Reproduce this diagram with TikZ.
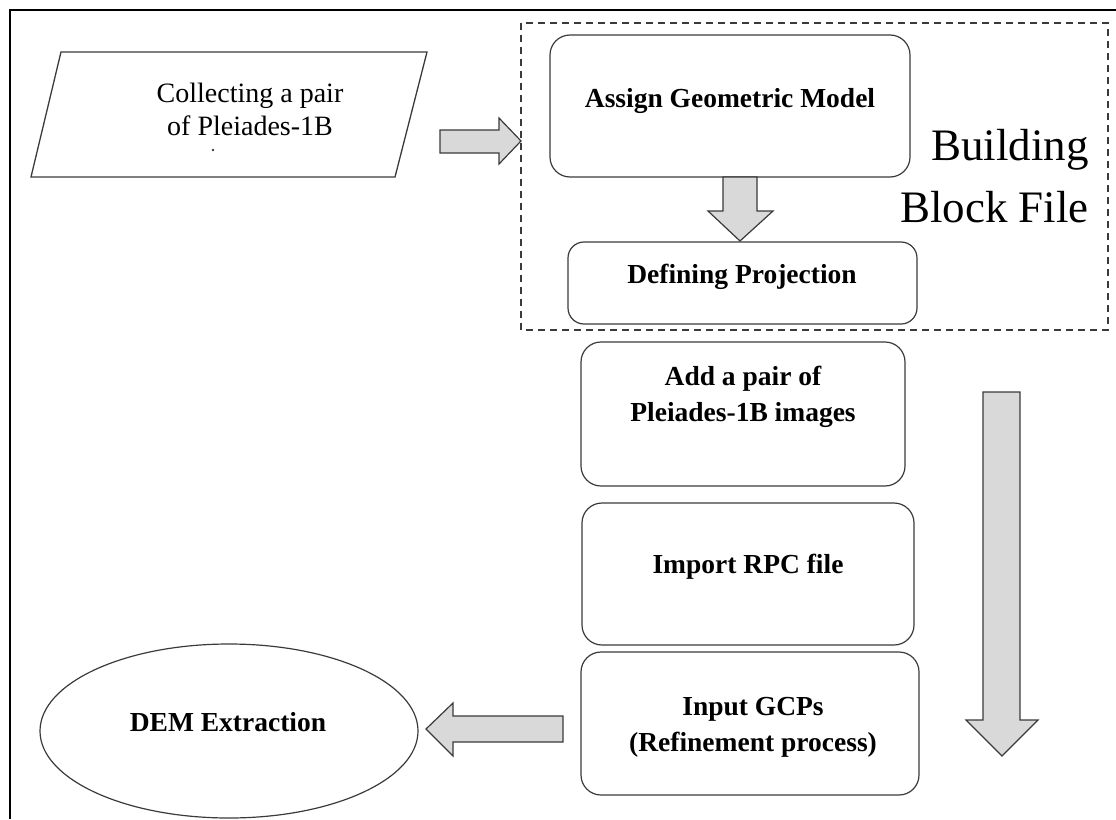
\documentclass[tikz,border=0pt]{standalone}
\usepackage{fontspec}
\setmainfont{Liberation Serif}
\usetikzlibrary{shapes.geometric}
\definecolor{edge}{HTML}{3A3A3A}
\definecolor{arrowfill}{HTML}{D9D9D9}
\tikzset{
  roundbox/.style={draw=edge, line width=1.2pt, rounded corners=20pt, minimum width=#1, inner sep=0pt},
  boxlabel/.style={font=\fontsize{27.5}{36}\selectfont\bfseries, align=center, anchor=base, inner sep=0pt},
  blockarrow/.style={draw=edge, fill=arrowfill, line width=1.2pt, line join=miter},
  frameline/.style={draw=black, line width=2pt},
}
\begin{document}
\begin{tikzpicture}[x=1pt, y=-1pt]
\useasboundingbox (0,0) rectangle (1116,819);
% frame (top and left edges visible)
\draw[frameline] (10,819) -- (10,10) -- (1116,10);

% input parallelogram
\coordinate (pTL) at (61,52);
\coordinate (pTR) at (427,52);
\coordinate (pBR) at (395,177);
\coordinate (pBL) at (31,177);
\draw[draw=edge, line width=1.3pt] (pTL) -- (pTR) -- (pBR) -- (pBL) -- cycle;
\node[font=\fontsize{28}{33}\selectfont, align=center, anchor=base, inner sep=0pt] (collect) at (250,135) {Collecting a pair\\of Pleiades-1B};
\fill[edge] (213,150) circle (1.3pt);

% dashed group
\draw[draw=edge, line width=1.5pt, dash pattern=on 7pt off 5pt] (521,23) rectangle (1108,330);
\node[font=\fontsize{45}{62}\selectfont, align=right, anchor=base east, inner sep=0pt] (bbf) at (1089,222) {Building\\Block File};

% process boxes
\node[roundbox=360pt, minimum height=142pt] (assign) at (730,106) {};
\node[boxlabel] (assignT) at (730,107) {Assign Geometric Model};

\node[roundbox=349pt, minimum height=82pt, rounded corners=16pt] (defproj) at (742.5,283) {};
\node[boxlabel] (defprojT) at (742,283) {Defining Projection};

\node[roundbox=324pt, minimum height=144pt] (add) at (743,414) {};
\node[boxlabel] (addT) at (743,421) {Add a pair of\\Pleiades-1B images};

\node[roundbox=332pt, minimum height=142pt] (import) at (748,574) {};
\node[boxlabel] (importT) at (748,573) {Import RPC file};

\node[roundbox=338pt, minimum height=143pt] (input) at (750,723.5) {};
\node[boxlabel] (inputT) at (753,751) {Input GCPs\\(Refinement process)};

\node[draw=edge, line width=1.2pt, ellipse, minimum width=378pt, minimum height=174pt, inner sep=0pt] (dem) at (229,731) {};
\node[boxlabel] (demT) at (228,731) {DEM Extraction};

% block arrows
\draw[blockarrow] (440,130) -- (499,130) -- (499,118) -- (521,141) -- (499,164) -- (499,153) -- (440,153) -- cycle;
\draw[blockarrow] (723,177) -- (757,177) -- (757,211) -- (773,211) -- (740,241) -- (708,211) -- (723,211) -- cycle;
\draw[blockarrow] (983,392) -- (1020,392) -- (1020,720) -- (1038,720) -- (1002,756) -- (966,720) -- (983,720) -- cycle;
\draw[blockarrow] (563,716) -- (453,716) -- (453,703) -- (426,729) -- (453,756) -- (453,742) -- (563,742) -- cycle;
\end{tikzpicture}
\end{document}
